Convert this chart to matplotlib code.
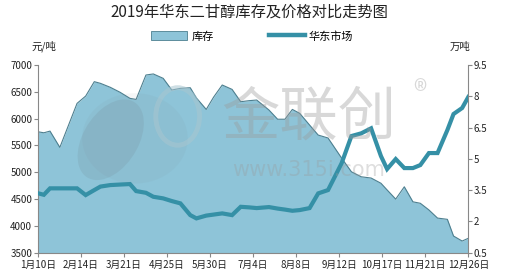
import matplotlib
matplotlib.use("Agg")
import matplotlib.pyplot as plt
import pandas as pd
from matplotlib.lines import Line2D
from matplotlib.patches import Patch, Ellipse

plt.rcParams['font.family'] = ['Noto Sans CJK SC', 'DejaVu Sans']

# ---- data ----
dates = ["01-10", "01-15", "01-20", "01-28", "02-11", "02-18", "02-25", "03-02", "03-10",
         "03-18", "03-26", "03-31", "04-08", "04-14", "04-22", "04-29", "05-06", "05-14",
         "05-19", "05-27", "06-02", "06-09", "06-17", "06-24", "07-01", "07-07", "07-17",
         "07-24", "07-30", "08-05", "08-11", "08-19", "08-26", "09-03", "09-14", "09-22",
         "09-30", "10-08", "10-16", "10-21", "10-28", "11-04", "11-11", "11-17", "11-24",
         "12-01", "12-09", "12-14", "12-21", "12-26"]
price = [4610, 4580, 4700, 4700, 4700, 4575, 4668, 4733, 4761,
         4771, 4780, 4649, 4617, 4543, 4513, 4463, 4420, 4201,
         4140, 4192, 4211, 4233, 4201, 4356, 4345, 4332, 4351,
         4323, 4304, 4282, 4295, 4332, 4606, 4668, 5166, 5675,
         5726, 5819, 5302, 5060, 5246, 5078, 5078, 5134, 5358,
         5358, 5787, 6086, 6198, 6403]
inventory = [6.30, 6.25, 6.33, 5.55, 7.66, 8.01, 8.70, 8.62, 8.43,
             8.19, 7.90, 7.85, 9.02, 9.07, 8.86, 8.30, 8.38, 8.41,
             7.92, 7.37, 7.96, 8.54, 8.33, 7.74, 7.79, 7.82, 7.34,
             6.90, 6.90, 7.37, 7.18, 6.62, 6.14, 6.00, 5.04, 4.38,
             4.14, 4.08, 3.83, 3.51, 3.07, 3.66, 2.94, 2.87, 2.55,
             2.16, 2.10, 1.30, 1.06, 1.19]
tick_dates = ["01-10", "02-14", "03-21", "04-25", "05-30", "07-04", "08-08",
              "09-12", "10-17", "11-21", "12-26"]
tick_labels = ["1月10日", "2月14日", "3月21日", "4月25日", "5月30日", "7月4日", "8月8日",
               "9月12日", "10月17日", "11月21日", "12月26日"]
left_ticks = [3500, 4000, 4500, 5000, 5500, 6000, 6500, 7000]
right_ticks = [0.5, 2, 3.5, 5, 6.5, 8, 9.5]

x = pd.to_datetime(["2019-" + d for d in dates])
xt = pd.to_datetime(["2019-" + d for d in tick_dates])

area_color = "#8ec4d8"
edge_color = "#4d7f8f"
line_color = "#3590a6"
axis_color = "#888888"

fig = plt.figure(figsize=(5.15, 2.74), dpi=100)
ax = fig.add_axes([0.0732, 0.0777, 0.8361, 0.6851])
ax2 = ax.twinx()

# inventory area on right axis
ax2.fill_between(x, inventory, 0.5, color=area_color, lw=0)
ax2.plot(x, inventory, color=edge_color, lw=0.8)
ax2.set_ylim(0.5, 9.5)
ax2.set_yticks(right_ticks)
ax2.set_yticklabels([f"{v:g}" for v in right_ticks])

# price line on left axis
ax.plot(x, price, color=line_color, lw=3.0, solid_joinstyle='miter', zorder=5)
ax.set_ylim(3500, 7000)
ax.set_yticks(left_ticks)
ax.set_xlim(xt[0], xt[-1])
ax.set_xticks(xt)
ax.set_xticklabels(tick_labels)

ax.set_zorder(ax2.get_zorder() + 1)
ax.patch.set_visible(False)

for a in (ax, ax2):
    a.spines['top'].set_visible(False)
    for s in ('left', 'right', 'bottom'):
        a.spines[s].set_color(axis_color)
        a.spines[s].set_linewidth(0.8)
    a.tick_params(colors=axis_color, labelcolor="#222222", labelsize=7, length=3, width=0.8)
ax.spines['right'].set_visible(False)
ax2.spines['left'].set_visible(False)
ax2.spines['bottom'].set_visible(False)
ax.tick_params(axis='x', pad=2)
ax.tick_params(axis='y', pad=1)
ax2.tick_params(axis='y', pad=1)

# watermark (logo + text)
fig.patches.append(Ellipse((0.262, 0.495), 0.205, 0.33, transform=fig.transFigure,
                           facecolor="#7a8890", alpha=0.07, lw=0, zorder=10))
fig.patches.append(Ellipse((0.215, 0.49), 0.115, 0.30, angle=-12, transform=fig.transFigure,
                           facecolor="#6a7880", alpha=0.14, lw=0, zorder=10))
fig.patches.append(Ellipse((0.345, 0.575), 0.085, 0.21, transform=fig.transFigure,
                           facecolor="none", edgecolor="#a8c6d0", alpha=0.55, lw=3.5, zorder=10))
fig.text(0.60, 0.57, "金联创", fontsize=42, color="#9a9a9a", alpha=0.38,
         ha='center', va='center', zorder=10)
fig.text(0.815, 0.66, "®", fontsize=20, color="#9a9a9a", alpha=0.38,
         ha='center', va='center', zorder=10)
fig.text(0.60, 0.38, "www.315i.com", fontsize=15, color="#9a9a9a", alpha=0.32,
         ha='center', va='center', zorder=10, family=['DejaVu Sans'])

# titles and units
fig.text(0.484, 0.955, "2019年华东二甘醇库存及价格对比走势图", fontsize=11,
         color="#222222", ha='center', va='center')
fig.text(0.085, 0.83, "元/吨", fontsize=7.5, color="#222222", ha='center', va='center')
fig.text(0.893, 0.83, "万吨", fontsize=7.5, color="#222222", ha='center', va='center')

handles = [Patch(facecolor=area_color, edgecolor=edge_color, lw=0.6, label="库存"),
           Line2D([0], [0], color=line_color, lw=3.2, label="华东市场")]
fig.legend(handles=handles, loc='center', bbox_to_anchor=(0.49, 0.868), ncol=2,
           frameon=False, fontsize=8, handlelength=3.2, handleheight=0.8,
           columnspacing=5, handletextpad=0.4)

fig.savefig("out.png", dpi=100)
